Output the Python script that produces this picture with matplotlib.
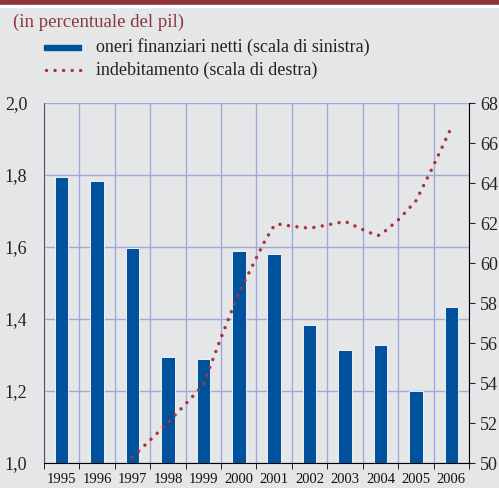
import matplotlib
matplotlib.use('Agg')
import matplotlib.pyplot as plt
from matplotlib.patches import Rectangle
from matplotlib.lines import Line2D

years = ['1995', '1996', '1997', '1998', '1999', '2000', '2001', '2002', '2003', '2004', '2005', '2006']
oneri = [1.794, 1.783, 1.597, 1.294, 1.289, 1.589, 1.581, 1.382, 1.315, 1.329, 1.199, 1.432]

# indebitamento, every half year (0 = 1995)
debt_pos = [2.0, 2.5, 3.0, 3.5, 4.0, 4.25, 4.5, 5.0, 5.5, 5.75, 6.0, 6.1, 6.5, 7.0, 7.5, 8.0,
            8.5, 8.9, 9.0, 9.5, 10.0, 10.5, 11.0]
debt = [50.3, 51.15, 52.02, 52.95, 53.92, 55.1, 56.27, 58.5, 60.27, 61.15, 61.87, 61.95, 61.84,
        61.74, 61.9, 62.08, 61.67, 61.37, 61.4, 62.15, 63.1, 64.88, 66.77]

bg = '#e5e6e8'
blue = '#00529c'
red = '#a93338'
grid = '#9ea9d8'
serif = 'Liberation Serif'
dots = (0, (0.01, 2.45))

W, H = 499, 488
fig = plt.figure(figsize=(W / 100, H / 100), dpi=100, facecolor=bg)

# top band
fig.patches.append(Rectangle((0, (H - 5) / H), 1, 5 / H, transform=fig.transFigure,
                             color='#8e353b', zorder=0))
fig.patches.append(Rectangle((0, (H - 6.5) / H), 1, 1.5 / H, transform=fig.transFigure,
                             color='white', zorder=0))

fig.text(13 / W, 1 - 22 / H, '(in percentuale del pil)', family=serif, fontsize=13.5,
         color='#8e353b', va='center', ha='left')

# legend drawn by hand
fig.patches.append(Rectangle((44 / W, 1 - 50 / H), 37 / W, 5 / H, transform=fig.transFigure,
                             color=blue))
fig.text(96 / W, 1 - 47 / H, 'oneri finanziari netti (scala di sinistra)', family=serif,
         fontsize=13, color='#222222', va='center', ha='left')
fig.lines.append(Line2D([46 / W, 81 / W], [1 - 70 / H, 1 - 70 / H], transform=fig.transFigure,
                        color=red, lw=2.5, linestyle=dots, dash_capstyle='round'))
fig.text(96 / W, 1 - 70 / H, 'indebitamento (scala di destra)', family=serif,
         fontsize=13, color='#222222', va='center', ha='left')

ax = fig.add_axes([44 / W, 25 / H, 425 / W, 360 / H], facecolor=bg)
x = list(range(len(years)))
ax.bar(x, oneri, width=0.38, color=blue, edgecolor='white', linewidth=0.6, zorder=2)
ax.set_xlim(-0.5, 11.5)
ax.set_ylim(1.0, 2.0)
ax.set_yticks([1.0, 1.2, 1.4, 1.6, 1.8, 2.0])
ax.set_yticklabels(['1,0', '1,2', '1,4', '1,6', '1,8', '2,0'], family=serif, fontsize=13)
ax.set_xticks(x)
ax.set_xticklabels(years, family=serif, fontsize=10.5)
ax.set_xticks([i + 0.5 for i in range(-1, 12)], minor=True)
ax.tick_params(axis='x', which='major', length=0, pad=7, colors='#111111')
ax.tick_params(axis='x', which='minor', length=4, direction='out', color='black')
ax.tick_params(axis='y', length=0, pad=12, colors='#222222')
ax.grid(True, axis='y', color=grid, lw=1.0, zorder=1)
ax.grid(True, axis='x', which='minor', color=grid, lw=1.0, zorder=1)
ax.set_axisbelow(True)
for s in ['top', 'right']:
    ax.spines[s].set_visible(False)
ax.spines['left'].set_color('#555555')
ax.spines['bottom'].set_color('black')

ax2 = ax.twinx()
ax2.plot(debt_pos, debt, color=red, lw=2.5, linestyle=dots,
         dash_capstyle='round', zorder=3)
ax2.set_ylim(50, 68)
ax2.set_yticks(range(50, 70, 2))
ax2.set_yticklabels([str(v) for v in range(50, 70, 2)], family=serif, fontsize=13)
ax2.tick_params(axis='y', length=4, direction='out', pad=4, colors='#222222')
for s in ['top', 'left', 'bottom']:
    ax2.spines[s].set_visible(False)
ax2.spines['right'].set_color('black')

fig.savefig('out.png', dpi=100, facecolor=bg)
